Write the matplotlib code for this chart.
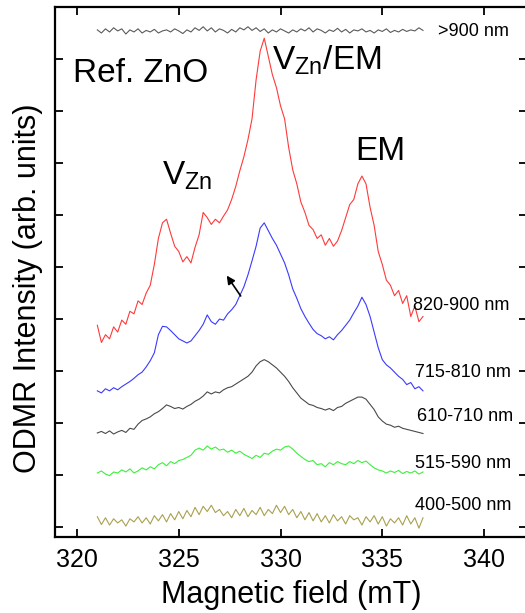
import numpy as np
import matplotlib
matplotlib.use("Agg")
import matplotlib.pyplot as plt

plt.rcParams['font.family'] = ['Liberation Sans', 'DejaVu Sans']
plt.rcParams['mathtext.default'] = 'regular'

# field runs 321..337 mT in 0.2 mT steps for every trace
y_900 = [9.56, 9.50, 9.58, 9.52, 9.60, 9.54, 9.58, 9.48, 9.56, 9.52,
         9.58, 9.50, 9.55, 9.52, 9.57, 9.50, 9.54, 9.56, 9.52, 9.58,
         9.54, 9.49, 9.56, 9.52, 9.60, 9.55, 9.62, 9.54, 9.60, 9.52,
         9.58, 9.55, 9.50, 9.57, 9.52, 9.60, 9.56, 9.62, 9.55, 9.60,
         9.53, 9.58, 9.50, 9.56, 9.52, 9.58, 9.54, 9.50, 9.56, 9.52,
         9.58, 9.54, 9.60, 9.52, 9.58, 9.55, 9.50, 9.56, 9.53, 9.59,
         9.52, 9.57, 9.50, 9.56, 9.54, 9.58, 9.52, 9.55, 9.50, 9.56,
         9.53, 9.58, 9.51, 9.55, 9.52, 9.57, 9.53, 9.56, 9.54, 9.60,
         9.55]

y_820 = [3.88, 3.55, 3.70, 3.62, 3.85, 3.75, 3.98, 3.90, 4.15, 4.10,
         4.35, 4.28, 4.50, 4.65, 5.05, 5.55, 5.85, 5.92, 5.65, 5.40,
         5.30, 5.10, 5.20, 5.08, 5.38, 5.62, 6.05, 5.95, 5.82, 5.92,
         5.85, 5.98, 6.10, 6.30, 6.55, 6.85, 7.12, 7.45, 7.85, 8.60,
         9.15, 9.40, 9.05, 8.70, 8.45, 8.10, 7.85, 7.30, 6.87, 6.60,
         6.25, 6.05, 5.80, 5.72, 5.55, 5.62, 5.42, 5.55, 5.40, 5.50,
         5.70, 5.95, 6.20, 6.30, 6.60, 6.75, 6.60, 6.15, 5.80, 5.30,
         5.05, 4.75, 4.65, 4.45, 4.55, 4.30, 4.45, 4.05, 4.25, 3.95,
         4.05]

y_715 = [2.62, 2.58, 2.66, 2.62, 2.68, 2.64, 2.70, 2.75, 2.80, 2.86,
         2.93, 2.98, 3.08, 3.20, 3.35, 3.70, 3.86, 3.85, 3.78, 3.70,
         3.62, 3.58, 3.54, 3.58, 3.68, 3.78, 3.90, 4.08, 3.95, 3.90,
         4.00, 3.98, 4.10, 4.18, 4.28, 4.45, 4.62, 4.85, 5.12, 5.40,
         5.75, 5.85, 5.70, 5.55, 5.42, 5.25, 5.08, 4.85, 4.58, 4.40,
         4.20, 4.05, 3.92, 3.80, 3.72, 3.68, 3.62, 3.66, 3.60, 3.70,
         3.78, 3.88, 3.98, 4.12, 4.25, 4.42, 4.28, 4.05, 3.75, 3.45,
         3.22, 3.12, 3.06, 2.98, 2.90, 2.84, 2.74, 2.78, 2.66, 2.70,
         2.62]

y_610 = [1.81, 1.84, 1.80, 1.85, 1.79, 1.83, 1.86, 1.82, 1.90, 1.88,
         1.98, 2.05, 2.08, 2.12, 2.18, 2.22, 2.28, 2.35, 2.32, 2.28,
         2.30, 2.27, 2.32, 2.36, 2.42, 2.46, 2.52, 2.60, 2.56, 2.60,
         2.58, 2.64, 2.68, 2.70, 2.75, 2.80, 2.85, 2.90, 2.98, 3.10,
         3.18, 3.22, 3.18, 3.12, 3.06, 2.98, 2.90, 2.80, 2.68, 2.58,
         2.48, 2.42, 2.36, 2.34, 2.30, 2.28, 2.25, 2.28, 2.24, 2.30,
         2.32, 2.38, 2.42, 2.46, 2.50, 2.50, 2.46, 2.36, 2.26, 2.12,
         2.04, 1.98, 1.96, 1.92, 1.94, 1.90, 1.88, 1.86, 1.84, 1.82,
         1.80]

y_515 = [1.04, 1.08, 1.02, 0.99, 1.06, 1.04, 1.10, 1.06, 1.12, 1.04,
         1.08, 1.14, 1.10, 1.16, 1.12, 1.20, 1.24, 1.18, 1.26, 1.22,
         1.28, 1.30, 1.34, 1.38, 1.48, 1.52, 1.48, 1.56, 1.50, 1.54,
         1.48, 1.50, 1.44, 1.48, 1.42, 1.46, 1.40, 1.36, 1.32, 1.38,
         1.34, 1.42, 1.40, 1.46, 1.50, 1.48, 1.54, 1.56, 1.50, 1.42,
         1.36, 1.30, 1.26, 1.28, 1.20, 1.22, 1.16, 1.24, 1.20, 1.26,
         1.22, 1.20, 1.26, 1.22, 1.28, 1.24, 1.27, 1.20, 1.14, 1.10,
         1.08, 1.04, 1.08, 1.05, 1.09, 1.03, 1.07, 1.04, 1.08, 1.02,
         1.06]

y_400 = [0.20, 0.05, 0.18, 0.04, 0.16, 0.08, 0.14, 0.02, 0.16, 0.10,
         0.20, 0.08, 0.18, 0.06, 0.22, 0.12, 0.24, 0.10, 0.26, 0.14,
         0.30, 0.16, 0.32, 0.20, 0.38, 0.24, 0.40, 0.30, 0.42, 0.28,
         0.34, 0.22, 0.30, 0.18, 0.34, 0.22, 0.36, 0.20, 0.32, 0.24,
         0.38, 0.22, 0.34, 0.26, 0.42, 0.28, 0.40, 0.24, 0.34, 0.18,
         0.30, 0.14, 0.28, 0.12, 0.26, 0.10, 0.22, 0.08, 0.24, 0.12,
         0.20, 0.06, 0.22, 0.14, 0.18, 0.04, 0.20, 0.10, 0.22, 0.06,
         0.20, 0.02, 0.16, 0.08, 0.18, 0.04, 0.22, 0.06, 0.18, -0.02,
         0.18]

labels = ['>900 nm', '820-900 nm', '715-810 nm', '610-710 nm', '515-590 nm', '400-500 nm']
colors = ['#5a5a5a', '#ff3a3a', '#3a3aff', '#4a4a4a', '#3cf03c', '#aaa050']
label_x = [337.74, 336.52, 336.6, 336.7, 336.6, 336.6]
label_y = [9.52, 4.27, 2.98, 2.12, 1.23, 0.42]
traces = [y_900, y_820, y_715, y_610, y_515, y_400]

fig = plt.figure(figsize=(5.25, 6.13), dpi=100)
ax = fig.add_axes([55/525, 76/613, 472/525, 530/613])

for vals, c, lab, lx, ly in zip(traces, colors, labels, label_x, label_y):
    field = np.linspace(321.0, 337.0, len(vals))
    ax.plot(field, vals, color=c, lw=0.8)
    ax.text(lx, ly, lab, fontsize=13, va='center', ha='left')

ax.text(319.8, 8.55, 'Ref. ZnO', fontsize=24, va='baseline')
ax.text(329.58, 8.79, r'V$_{Zn}$/EM', fontsize=24, va='baseline')
ax.text(333.66, 7.06, 'EM', fontsize=24, va='baseline')
ax.text(324.18, 6.58, r'V$_{Zn}$', fontsize=24, va='baseline')

ax.annotate('', xy=(327.28, 4.88), xytext=(328.12, 4.40),
            arrowprops=dict(arrowstyle='-|>', color='k', lw=1.2, mutation_scale=12))

ax.set_xlim(318.92, 342.11)
ax.set_ylim(-0.19, 10.0)
ax.set_xticks([320, 325, 330, 335, 340])
ax.set_yticks(np.arange(0, 10))
ax.tick_params(direction='in', top=True, right=True, length=6, width=1.3,
               labelsize=18, pad=8, labelleft=False)
for s in ax.spines.values():
    s.set_linewidth(1.6)

ax.set_xlabel('Magnetic field (mT)', fontsize=22, labelpad=6)
ax.set_ylabel('ODMR Intensity (arb. units)', fontsize=22)
ax.yaxis.set_label_coords(-0.025, 0.47)

fig.savefig('out.png', dpi=100)
